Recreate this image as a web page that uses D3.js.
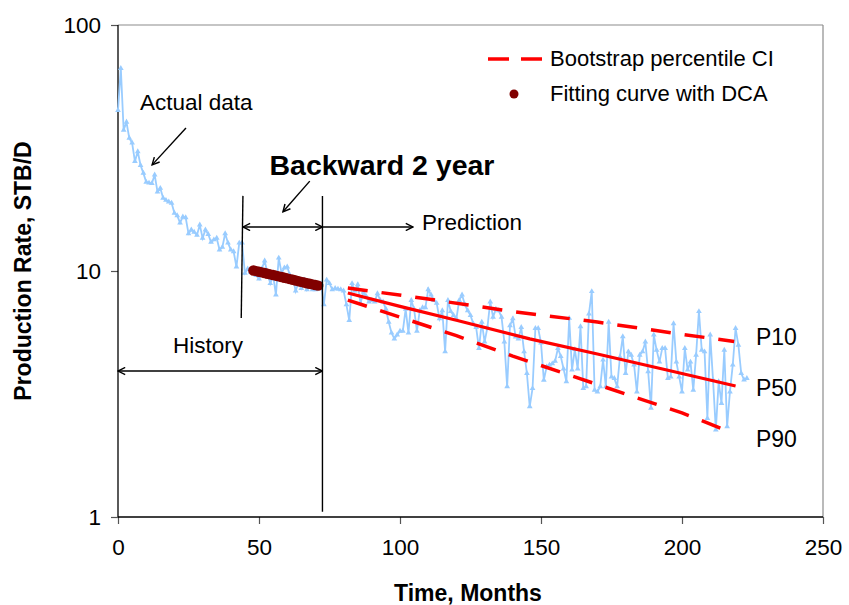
<!DOCTYPE html>
<html><head><meta charset="utf-8">
<script src="https://cdn.jsdelivr.net/npm/d3@7"></script>
<style>
body{margin:0;background:#fff}
text{font-family:"Liberation Sans",Arial,sans-serif;fill:#000}
</style>
</head><body>
<svg id="c" width="849" height="605"></svg>
<script>
// ---- data ----
const actualStartMonth = 0;
const actualRates = [
 45, 66.7, 37.4, 40.3, 34.7, 33.2, 27.9, 30.6, 26.9, 25, 23, 22.8, 22.7, 24.6, 21, 21.7, 19.8, 19.4, 19.1, 18.9,
 17.2, 16.8, 15.7, 16.6, 16.5, 14.2, 14.7, 14.4, 14.0, 15.4, 13.6, 14.7, 14.1, 13.1, 13.4, 13.6, 12.2, 12.5, 14.2, 13.0,
 12.2, 12.0, 10.4, 13.0, 13.0, 9.8,
 10.2, 9.9, 10.0, 9.6, 9.3, 10.2, 11.0, 9.8, 8.9, 9.6, 8.0, 11.3, 9.8, 10.3, 10.4, 9.6, 9.4, 8.3, 9.0, 8.5,
 9.2, 8.4, 8.8, 8.4, 8.4, 8.6, 8.9,
 7.3, 9.2, 8.9, 8.4, 8.5, 8.45, 8.4, 8.3, 7.3, 6.3, 8.9, 8.3, 8.8, 7.4, 8.2, 7.9, 7.5, 7.6, 7.5, 8.1,
 7.6, 7.5, 7.0, 6.2, 5.6, 5.3, 5.5, 5.7, 5.7, 7.0, 5.6, 7.6,
 7.0, 5.7, 6.9, 7.1, 7.1, 8.4, 8.0, 7.6, 7.4, 6.4, 6.9, 4.7, 7.6, 6.85, 6.6, 6.4, 7.6, 8.0, 7.3, 6.9,
 6.6, 6.1, 5.9, 4.85, 6.2, 5.15, 5.9, 7.5, 6.5, 7.0, 6.9, 6.5, 5.15, 3.39, 6.0, 6.4, 5.4, 5.3, 5.9, 4.7,
 3.84, 2.81, 3.33, 5.85, 5.85, 5.1, 3.6, 4.08, 4.15, 4.2, 4.3, 4.85, 4.5, 4.0, 3.55, 6.43, 3.96, 4.8, 4.0, 5.94,
 3.33, 3.39, 6.7, 8.26, 3.28, 3.23, 3.39, 4.35, 3.39, 6.2, 3.71, 3.66, 3.39, 4.48, 5.41, 3.84, 4.7, 4.55, 4.15, 3.23,
 4.55, 4.7, 5.15, 3.9, 2.77, 5.5, 4.77, 4.27, 4.85, 4.85, 3.66, 3.71, 6.11, 4.27, 3.71, 3.23, 4.85, 3.96, 4.27, 3.28,
 4.55, 6.85, 4.77, 4.7, 2.52, 5.5, 3.61, 2.26, 3.55, 2.9, 4.77, 2.33, 3.23, 4.15, 5.85, 5.0, 3.84, 3.61, 3.66
];
const fitMonths = [48,49,50,51,52,53,54,55,56,57,58,59,60,61,62,63,64,65,66,67,68,69,70,71];
const fitRates  = [10.05,9.99,9.93,9.87,9.81,9.75,9.69,9.63,9.57,9.51,9.45,9.39,9.33,9.27,9.21,9.15,9.09,9.03,8.98,8.92,8.87,8.82,8.77,8.72];
const p10Months = [81.5, 110, 140, 170, 200, 218.5];
const p10Rates  = [8.53, 7.69, 6.84, 6.2, 5.53, 5.17];
const p50Months = [81.5, 100, 120, 146, 170, 195, 219];
const p50Rates  = [8.14, 7.18, 6.31, 5.3, 4.6, 3.95, 3.41];
const p90Months = [81.5, 100, 120, 140, 160, 180, 200, 216];
const p90Rates  = [7.62, 6.49, 5.46, 4.51, 3.78, 3.16, 2.65, 2.24];
const xTicks = [0, 50, 100, 150, 200, 250];
const yTicks = [1, 10, 100];
const legendLabels = ["Bootstrap percentile CI", "Fitting curve with DCA"];
const xTitle = "Time, Months";
const yTitle = "Production Rate, STB/D";

// ---- layout ----
const W = 849, H = 605;
const m = {left:118, right:26, top:25, bottom:88};
const svg = d3.select("#c");
svg.append("rect").attr("width",W).attr("height",H).attr("fill","#fff");

const x = d3.scaleLinear().domain([0,250]).range([m.left, W-m.right]);
const y = d3.scaleLog().domain([1,100]).range([H-m.bottom, m.top]);

// frame
svg.append("line").attr("x1",x(0)).attr("x2",x(250)).attr("y1",y(100)).attr("y2",y(100)).attr("stroke","#8c8c8c").attr("stroke-width",1.2);
svg.append("line").attr("x1",x(250)).attr("x2",x(250)).attr("y1",y(100)).attr("y2",y(1)).attr("stroke","#8c8c8c").attr("stroke-width",1.2);

// axes
const xa = svg.append("g").attr("transform",`translate(0,${y(1)})`)
  .call(d3.axisBottom(x).tickValues(xTicks).tickFormat(d3.format("d")).tickSize(7).tickPadding(15));
const ya = svg.append("g").attr("transform",`translate(${x(0)},0)`)
  .call(d3.axisLeft(y).tickValues(yTicks).tickFormat(d3.format("d")).tickSize(7).tickPadding(10));
[xa,ya].forEach(g=>{
  g.select(".domain").remove();
  g.selectAll(".tick line").attr("stroke","#555").attr("stroke-width",1.2);
  g.selectAll(".tick text").style("font-size","22.5px").style("font-family","'Liberation Sans',Arial,sans-serif").attr("fill","#000");
});
svg.append("line").attr("x1",x(0)).attr("x2",x(0)).attr("y1",y(100)).attr("y2",y(1)).attr("stroke","#000").attr("stroke-width",1.3);
svg.append("line").attr("x1",x(0)).attr("x2",x(250)).attr("y1",y(1)).attr("y2",y(1)).attr("stroke","#000").attr("stroke-width",1.3);

// axis titles
svg.append("text").attr("x",468).attr("y",601).attr("text-anchor","middle")
  .style("font-size","23px").style("font-weight","bold").text(xTitle);
svg.append("text").attr("transform",`translate(31,${(y(1)+y(100))/2}) rotate(-90)`).attr("text-anchor","middle")
  .style("font-size","23px").style("font-weight","bold").text(yTitle);

// actual data
const actual = actualRates.map((v,i)=>({t: actualStartMonth+i, v}));
const line = d3.line().x(d=>x(d.t)).y(d=>y(d.v));
svg.append("path").datum(actual).attr("d",line).attr("fill","none").attr("stroke","#99ccff").attr("stroke-width",1.8);
svg.append("g").selectAll("path").data(actual).join("path")
  .attr("transform",d=>`translate(${x(d.t)},${y(d.v)})`)
  .attr("d",d3.symbol(d3.symbolTriangle,14)).attr("fill","#99ccff");

// percentile curves
function curve(ms, vs){ return ms.map((t,i)=>({t, v:vs[i]})); }
svg.append("path").datum(curve(p10Months,p10Rates)).attr("d",line).attr("fill","none").attr("stroke","#ff0000").attr("stroke-width",3.5).attr("stroke-dasharray","20,14");
svg.append("path").datum(curve(p90Months,p90Rates)).attr("d",line).attr("fill","none").attr("stroke","#ff0000").attr("stroke-width",3.5).attr("stroke-dasharray","20,14");
svg.append("path").datum(curve(p50Months,p50Rates)).attr("d",line).attr("fill","none").attr("stroke","#ff0000").attr("stroke-width",3.2);

// fitting dots
svg.append("g").selectAll("circle").data(curve(fitMonths,fitRates)).join("circle")
  .attr("cx",d=>x(d.t)).attr("cy",d=>y(d.v)).attr("r",5.2).attr("fill","#800000");

// annotations
const defs = svg.append("defs");
defs.append("marker").attr("id","ah").attr("viewBox","0 0 10 10").attr("refX",9).attr("refY",5)
  .attr("markerWidth",9).attr("markerHeight",9).attr("markerUnits","userSpaceOnUse").attr("orient","auto-start-reverse")
  .append("path").attr("d","M1,1 L9,5 L1,9").attr("fill","none").attr("stroke","#000").attr("stroke-width",1.6);

function seg(t1,v1,t2,v2,startHead,endHead){
  const l = svg.append("line").attr("x1",x(t1)).attr("y1",y(v1)).attr("x2",x(t2)).attr("y2",y(v2))
    .attr("stroke","#000").attr("stroke-width",1.4);
  if(startHead) l.attr("marker-start","url(#ah)");
  if(endHead) l.attr("marker-end","url(#ah)");
}
// vertical markers
seg(44.3, 20.2, 43.7, 6.44, false, false);
seg(72.5, 20.2, 72.5, 1.05, false, false);
// horizontal arrows
seg(44.3, 15.1, 72.5, 15.1, true, true);
seg(72.5, 15.1, 104.6, 15.1, false, true);
seg(0, 3.92, 72.5, 3.92, true, true);
// pointer arrows
seg(24.1, 38.1, 12.1, 27.0, false, true);
seg(68.0, 23.2, 58.5, 17.4, false, true);

function note(t, v, txt, size, weight, anchor){
  svg.append("text").attr("x",x(t)).attr("y",y(v)).attr("text-anchor",anchor||"start")
    .style("font-size",size+"px").style("font-weight",weight||"normal").text(txt);
}
note(7.8, 45.1, "Actual data", 22.5);
note(93.6, 24.5, "Backward 2 year", 28.5, "bold", "middle");
note(107.8, 14.7, "Prediction", 22.5);
note(19.5, 4.64, "History", 22.5);
note(226.2, 5.0, "P10", 23);
note(226.2, 3.10, "P50", 23);
note(226.2, 1.93, "P90", 23);

// legend
const lg = svg.append("g");
lg.append("line").attr("x1",488).attr("x2",542).attr("y1",59).attr("y2",59)
  .attr("stroke","#ff0000").attr("stroke-width",3.5).attr("stroke-dasharray","21,12");
lg.append("text").attr("x",550).attr("y",66).style("font-size","22px").text(legendLabels[0]);
lg.append("circle").attr("cx",514).attr("cy",94).attr("r",4.5).attr("fill","#800000");
lg.append("text").attr("x",550).attr("y",101).style("font-size","22px").text(legendLabels[1]);
</script>
</body></html>
